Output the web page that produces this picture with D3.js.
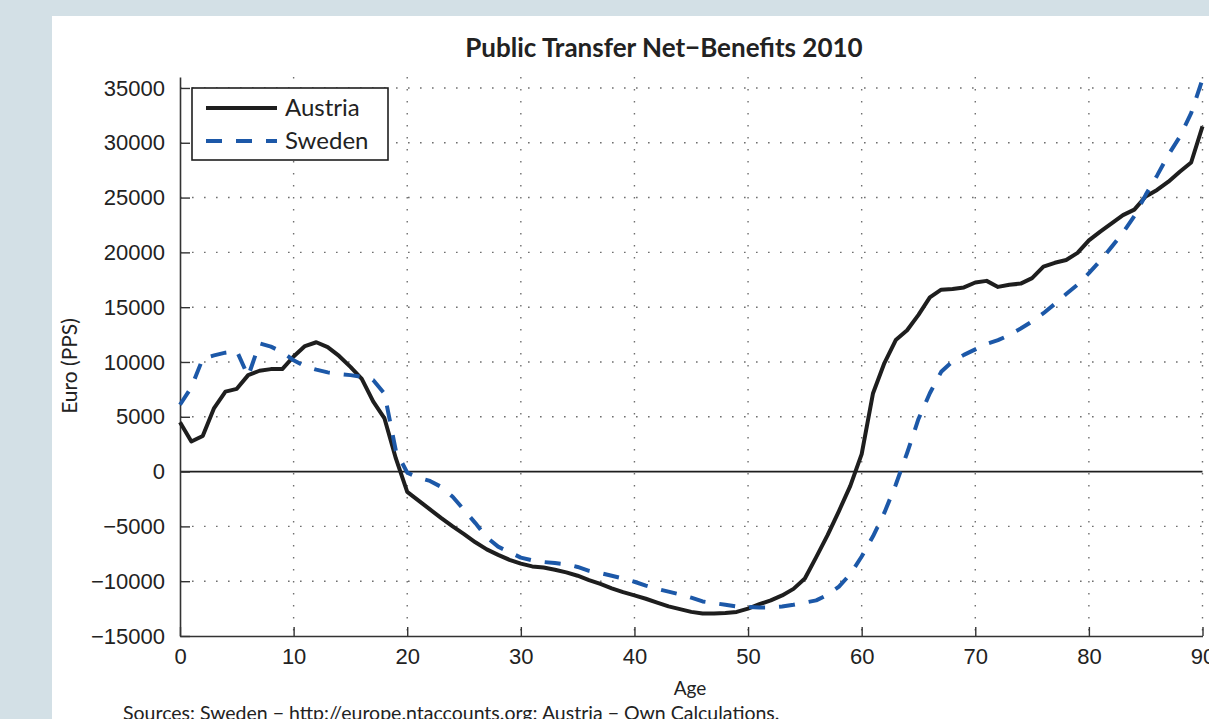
<!DOCTYPE html>
<html>
<head>
<meta charset="utf-8">
<script src="https://cdn.jsdelivr.net/npm/d3@7"></script>
<style>
  body { margin: 0; background: #d3e0e6; }
  svg { display: block; font-family: Lato, 'Open Sans', sans-serif; }
</style>
</head>
<body>
<svg id="area" width="1209" height="719"></svg>
<script>
const ages = [0, 1, 2, 3, 4, 5, 6, 7, 8, 9, 10, 11, 12, 13, 14, 15, 16, 17, 18, 19,
  20, 21, 22, 23, 24, 25, 26, 27, 28, 29, 30, 31, 32, 33, 34, 35, 36, 37, 38, 39,
  40, 41, 42, 43, 44, 45, 46, 47, 48, 49, 50, 51, 52, 53, 54, 55, 56, 57, 58, 59,
  60, 61, 62, 63, 64, 65, 66, 67, 68, 69, 70, 71, 72, 73, 74, 75, 76, 77, 78, 79,
  80, 81, 82, 83, 84, 85, 86, 87, 88, 89, 90];

const austria = [4500, 2750, 3250, 5800, 7300, 7550, 8800, 9200, 9350, 9350,
  10500, 11450, 11800, 11350, 10550, 9550, 8450, 6400, 4850, 1200,
  -1850, -2650, -3450, -4250, -5000, -5700, -6450, -7100, -7600, -8050,
  -8400, -8650, -8750, -8950, -9200, -9500, -9900, -10250, -10650, -11000,
  -11300, -11600, -11950, -12300, -12550, -12800, -12950, -12950, -12900, -12800,
  -12500, -12100, -11750, -11300, -10700, -9750, -7800, -5800, -3600, -1300,
  1600, 7150, 9900, 12000, 12900, 14300, 15900, 16600, 16650, 16800,
  17250, 17400, 16850, 17050, 17150, 17650, 18700, 19050, 19300, 19950,
  21100, 21900, 22650, 23400, 23900, 25100, 25700, 26450, 27350, 28200,
  31500];

const sweden = [6100, 7700, 10300, 10600, 10850, 11000, 8700, 11700, 11400, 10900,
  10150, 9600, 9300, 9050, 8900, 8800, 8650, 8350, 7100, 1900,
  -100, -550, -850, -1400, -2300, -3500, -4700, -6000, -6850, -7350,
  -7850, -8100, -8250, -8350, -8450, -8700, -9050, -9250, -9500, -9750,
  -10050, -10400, -10700, -10950, -11200, -11500, -11850, -12000, -12150, -12300,
  -12350, -12400, -12400, -12300, -12150, -11950, -11750, -11250, -10500, -9350,
  -7750, -5900, -3750, -1200, 1700, 4800, 7150, 9100, 10050, 10650,
  11150, 11650, 12000, 12450, 13050, 13700, 14450, 15300, 16200, 17050,
  18100, 19250, 20500, 21800, 23300, 25250, 27000, 28900, 30550, 32700,
  35800];

const xTicks = [0, 10, 20, 30, 40, 50, 60, 70, 80, 90];
const yTicks = [-15000, -10000, -5000, 0, 5000, 10000, 15000, 20000, 25000, 30000, 35000];
const seriesNames = ['Austria', 'Sweden'];

const series = [
  { name: seriesNames[0], values: austria, color: '#1e1e1e', dash: null },
  { name: seriesNames[1], values: sweden, color: '#1c58a8', dash: '16,14' },
];

const svg = d3.select('#area');
const fontTick = 22;

// panel
svg.append('rect')
  .attr('width', 1209).attr('height', 719)
  .attr('fill', '#d3e0e6');
svg.append('rect')
  .attr('x', 52).attr('y', 16)
  .attr('width', 1209 - 52).attr('height', 719 - 16)
  .attr('fill', '#ffffff');

const x = d3.scaleLinear()
  .domain([0, 90])
  .range([180, 1202.5]);
const y = d3.scaleLinear()
  .domain([-15000, 36000])
  .range([636, 77]);

// dotted grid
const grid = svg.append('g').attr('class', 'grid');
grid.selectAll('line.h')
  .data(yTicks.filter((d) => d !== 0 && d !== -15000))
  .enter().append('line')
  .attr('class', 'h')
  .attr('x1', x(0)).attr('x2', x(90))
  .attr('y1', (d) => y(d)).attr('y2', (d) => y(d))
  .attr('stroke', '#6f6f6f')
  .attr('stroke-width', 1.4)
  .attr('stroke-dasharray', '1.6,10.4');
grid.selectAll('line.v')
  .data(xTicks.filter((d) => d !== 0))
  .enter().append('line')
  .attr('class', 'v')
  .attr('x1', (d) => x(d)).attr('x2', (d) => x(d))
  .attr('y1', y.range()[1]).attr('y2', y.range()[0])
  .attr('stroke', '#6f6f6f')
  .attr('stroke-width', 1.4)
  .attr('stroke-dasharray', '1.6,10.4');

// zero line
svg.append('line')
  .attr('x1', x(0)).attr('x2', x(90))
  .attr('y1', y(0)).attr('y2', y(0))
  .attr('stroke', '#1e1e1e')
  .attr('stroke-width', 1.6);

// axes
const xAxis = d3.axisBottom(x)
  .tickValues(xTicks)
  .tickSizeInner(-9)
  .tickSizeOuter(0)
  .tickPadding(12)
  .tickFormat(d3.format('d'));
const yAxis = d3.axisLeft(y)
  .tickValues(yTicks)
  .tickSizeInner(-10)
  .tickSizeOuter(0)
  .tickPadding(15)
  .tickFormat(d3.format('d'));

const gx = svg.append('g')
  .attr('class', 'x axis')
  .attr('transform', `translate(0, ${y(-15000)})`)
  .call(xAxis);
const gy = svg.append('g')
  .attr('class', 'y axis')
  .attr('transform', `translate(${x(0)}, 0)`)
  .call(yAxis);

[gx, gy].forEach((g) => {
  g.select('.domain').attr('stroke', '#333').attr('stroke-width', 1.6);
  g.selectAll('.tick line').attr('stroke', '#333').attr('stroke-width', 1.4);
  g.selectAll('.tick text')
    .attr('fill', '#222')
    .style('font-size', `${fontTick}px`);
});
gx.selectAll('.tick text').attr('dy', '0.71em');

// lines
const line = d3.line()
  .x((d, i) => x(ages[i]))
  .y((d) => y(d));

svg.selectAll('path.series')
  .data(series)
  .enter().append('path')
  .attr('class', 'series')
  .attr('d', (d) => line(d.values))
  .attr('fill', 'none')
  .attr('stroke', (d) => d.color)
  .attr('stroke-width', 4)
  .attr('stroke-linejoin', 'round')
  .attr('stroke-dasharray', (d) => d.dash);

// legend
const legend = svg.append('g').attr('class', 'legend');
legend.append('rect')
  .attr('x', 192).attr('y', 88)
  .attr('width', 196).attr('height', 72)
  .attr('fill', '#fff')
  .attr('stroke', '#1e1e1e')
  .attr('stroke-width', 1.6);
const item = legend.selectAll('g.item')
  .data(series)
  .enter().append('g')
  .attr('class', 'item')
  .attr('transform', (d, i) => `translate(0, ${108 + i * 33})`);
item.append('line')
  .attr('x1', 206).attr('x2', 277)
  .attr('stroke', (d) => d.color)
  .attr('stroke-width', 4)
  .attr('stroke-dasharray', (d) => d.dash);
item.append('text')
  .attr('x', 285)
  .attr('dy', '0.35em')
  .style('font-size', '24px')
  .attr('fill', '#222')
  .text((d) => d.name);

// titles
svg.append('text')
  .attr('x', 664).attr('y', 57)
  .attr('text-anchor', 'middle')
  .style('font-size', '26px')
  .style('font-weight', 'bold')
  .attr('fill', '#222')
  .text('Public Transfer Net\u2212Benefits 2010');

svg.append('text')
  .attr('transform', `translate(77, 366) rotate(-90)`)
  .attr('text-anchor', 'middle')
  .style('font-size', '21px')
  .attr('fill', '#222')
  .text('Euro (PPS)');

svg.append('text')
  .attr('x', 690).attr('y', 695)
  .attr('text-anchor', 'middle')
  .style('font-size', '19px')
  .attr('fill', '#222')
  .text('Age');

svg.append('text')
  .attr('x', 123).attr('y', 720)
  .style('font-size', '19.5px')
  .attr('fill', '#222')
  .text('Sources: Sweden \u2212 http://europe.ntaccounts.org; Austria \u2212 Own Calculations.');
</script>
</body>
</html>
